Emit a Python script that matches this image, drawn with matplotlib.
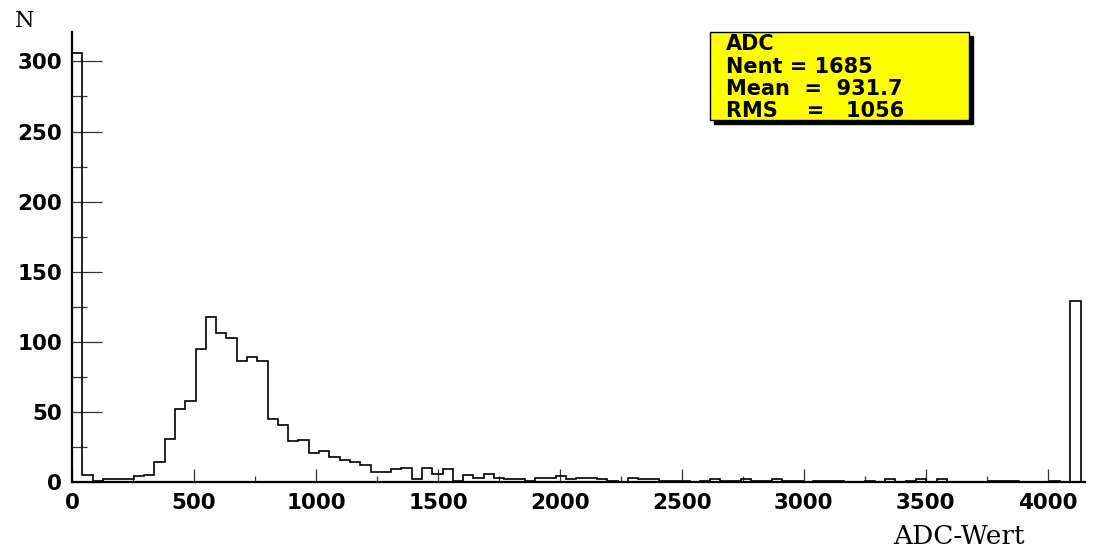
import numpy as np
import matplotlib
matplotlib.use("Agg")
import matplotlib.pyplot as plt
from matplotlib.patches import Rectangle
from matplotlib.ticker import MultipleLocator

# ---- data ----
bin_width = 42.2
counts = [306, 5, 1, 2, 2, 2, 4, 5, 14, 31,
          52, 58, 95, 118, 106, 103, 86, 89, 86, 45,
          41, 29, 30, 21, 22, 18, 16, 14, 12, 7,
          7, 9, 10, 2, 10, 6, 9, 1, 5, 3,
          6, 3, 2, 2, 1, 3, 3, 4, 2, 3,
          3, 2, 1, 0, 3, 2, 2, 1, 1, 1,
          0, 1, 2, 1, 1, 2, 1, 1, 2, 1,
          1, 0, 1, 1, 1, 0, 0, 1, 0, 2,
          0, 1, 2, 0, 2, 0, 0, 0, 0, 1,
          1, 1, 0, 0, 0, 1, 0, 129]
edges = np.arange(len(counts) + 1) * bin_width
x_ticks = [0, 500, 1000, 1500, 2000, 2500, 3000, 3500, 4000]
y_ticks = [0, 50, 100, 150, 200, 250, 300]
stats_lines = ["ADC", "Nent = 1685", "Mean  =  931.7", "RMS    =   1056"]
x_label = "ADC-Wert"
y_label = "N"

W, H = 1093, 549
fig = plt.figure(figsize=(W / 100, H / 100), dpi=100)
fig.patch.set_facecolor("white")

def fx(px):
    return px / W

def fy(py):
    return 1 - py / H

ax = fig.add_axes([fx(72), fy(482), fx(1085) - fx(72), fy(32) - fy(482)])
ax.set_facecolor("white")
ax.stairs(counts, edges, color="black", lw=1.2, zorder=3)

ax.set_xlim(0, 4153)
ax.set_ylim(0, 321)

for s in ["top", "right"]:
    ax.spines[s].set_visible(False)
for s in ["left", "bottom"]:
    ax.spines[s].set_linewidth(1.6)
    ax.spines[s].set_zorder(4)

ax.set_xticks(x_ticks)
ax.set_yticks(y_ticks)
ax.xaxis.set_minor_locator(MultipleLocator(250))
ax.yaxis.set_minor_locator(MultipleLocator(25))

tick_font = dict(family="DejaVu Sans", weight="bold", size=15.5)
ax.set_xticklabels([str(v) for v in x_ticks], fontdict=tick_font)
ax.set_yticklabels([str(v) for v in y_ticks], fontdict=tick_font)

ax.tick_params(axis="y", which="major", direction="in", length=21.6, width=0.9,
               color="#333333", pad=7)
ax.tick_params(axis="y", which="minor", direction="in", length=10.8, width=0.9,
               color="#333333")
ax.tick_params(axis="x", which="major", direction="in", length=9.4, width=0.9,
               color="#333333", pad=8)
ax.tick_params(axis="x", which="minor", direction="in", length=4.3, width=0.9,
               color="#333333")

# axis titles
fig.text(fx(25), fy(21), y_label, family="DejaVu Serif", size=16,
         ha="center", va="center")
fig.text(fx(1025), fy(537), x_label, family="DejaVu Serif", size=19,
         ha="right", va="center")

# stats box with shadow
bx0, by0, bx1, by1 = 710, 32, 969, 120
sh = 4
fig.patches.append(Rectangle((fx(bx0 + sh), fy(by1 + sh)), fx(bx1) - fx(bx0),
                             fy(by0) - fy(by1), transform=fig.transFigure,
                             facecolor="black", edgecolor="black", zorder=5))
fig.patches.append(Rectangle((fx(bx0), fy(by1)), fx(bx1) - fx(bx0),
                             fy(by0) - fy(by1), transform=fig.transFigure,
                             facecolor="#ffff00", edgecolor="black", lw=1.0,
                             zorder=6))
line_y = [44, 67, 89, 111]
for txt, yy in zip(stats_lines, line_y):
    fig.text(fx(726), fy(yy), txt, family="DejaVu Sans", weight="bold",
             size=15, ha="left", va="center", zorder=7)

fig.savefig("out.png", dpi=100, facecolor="white")
